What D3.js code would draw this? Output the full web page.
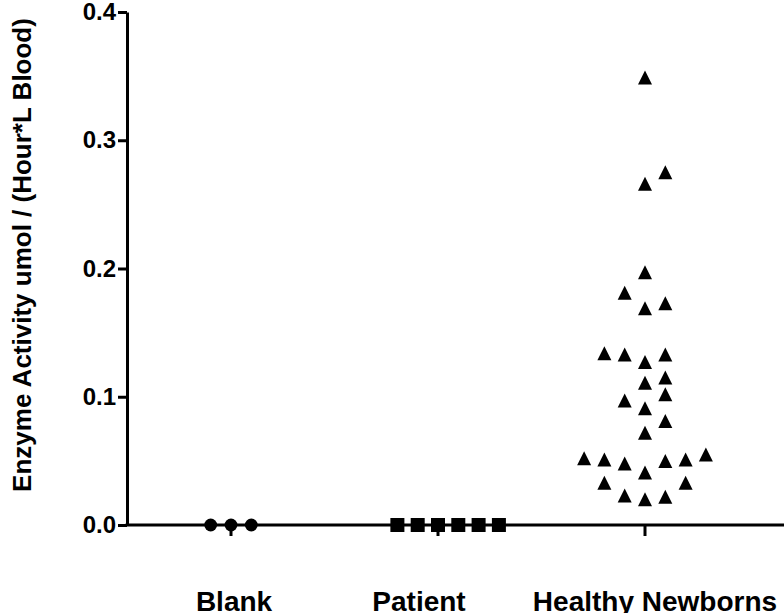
<!DOCTYPE html>
<html>
<head>
<meta charset="utf-8">
<script src="https://cdn.jsdelivr.net/npm/d3@7"></script>
<style>
  body { margin: 0; background: #fff; }
  text { font-family: "Liberation Sans", Arial, sans-serif; font-weight: bold; fill: #000; }
</style>
</head>
<body>
<svg id="chart" width="784" height="613"></svg>
<script>
// values (umol / (hour*L blood))
var categories = ["Blank", "Patient", "Healthy Newborns"];
var blankValues = [0, 0, 0];
var patientValues = [0, 0, 0, 0, 0, 0];
var newbornValues = [
  0.020, 0.022, 0.023, 0.033, 0.033,
  0.041, 0.048, 0.050, 0.051, 0.051, 0.052, 0.055,
  0.072, 0.081,
  0.091, 0.097, 0.102,
  0.111, 0.115,
  0.127, 0.133, 0.133, 0.134,
  0.169, 0.173, 0.181,
  0.197,
  0.266, 0.275,
  0.349
];
var yTicks = [0, 0.1, 0.2, 0.3, 0.4];

var width = 784, height = 613;
var margin = {top: 12, left: 127, bottom: 88};
var spread = 20.3;   // horizontal distance between neighbouring dots
var rowSpan = 0.0148; // values closer than this share a row
var labelShift = [3, -19, 10]; // the category labels are not quite centred under their ticks

var svg = d3.select("#chart");

var x = d3.scaleBand()
  .domain(categories)
  .range([127.5, 748.5]);

var y = d3.scaleLinear()
  .domain([0, 0.4])
  .range([height - margin.bottom, margin.top]);

// scatter dot plot layout: group close values into rows, then spread each row out from the centre
function dodge(values) {
  var idx = values.map((v, i) => i).sort((a, b) => values[a] - values[b] || a - b);
  var rows = [], cur = null;
  idx.forEach(function(i) {
    if (!cur || values[i] >= values[cur[0]] + rowSpan) { cur = [i]; rows.push(cur); }
    else cur.push(i);
  });
  var slots = new Array(values.length);
  rows.forEach(function(row, r) {
    var sign = r % 2 === 0 ? 1 : -1;
    row.slice().sort((a, b) => a - b).forEach(function(i, k) {
      var n = Math.ceil(k / 2);
      slots[i] = k === 0 ? 0 : (k % 2 === 1 ? sign * n : -sign * n);
    });
  });
  return values.map((v, i) => ({value: v, slot: slots[i]}));
}

// axes
var yAxis = g => g
  .attr("transform", `translate(${margin.left},0)`)
  .call(d3.axisLeft(y).tickValues(yTicks).tickFormat(d3.format(".1f")).tickSizeInner(9).tickSizeOuter(0).tickPadding(2))
  .call(g => g.selectAll("path, line").attr("stroke", "#000").attr("stroke-width", 3))
  .call(g => g.selectAll("text").style("font-size", "24px").attr("font-family", null));

var xAxis = g => g
  .attr("transform", `translate(0,${y(0)})`)
  .call(d3.axisBottom(x).tickSizeInner(11).tickSizeOuter(0).tickPadding(0))
  .call(g => g.select(".domain").remove())
  .call(g => g.selectAll("line").attr("stroke", "#000").attr("stroke-width", 3))
  .call(g => g.selectAll("text").remove());

svg.append("g").call(xAxis);
svg.append("line")
  .attr("x1", margin.left - 1.5).attr("x2", width)
  .attr("y1", y(0)).attr("y2", y(0))
  .attr("stroke", "#000").attr("stroke-width", 3);
svg.append("g").call(yAxis);

// category labels
svg.append("g")
  .selectAll("text")
  .data(categories)
  .join("text")
    .attr("x", (d, i) => x(d) + x.bandwidth() / 2 + labelShift[i])
    .attr("y", 611)
    .attr("text-anchor", "middle")
    .style("font-size", "28px")
    .text(d => d);

// y label
svg.append("text")
  .attr("transform", "translate(31,255) rotate(-90)")
  .attr("text-anchor", "middle")
  .style("font-size", "26px")
  .text("Enzyme Activity umol / (Hour*L Blood)");

var cx = (cat, d) => x(cat) + x.bandwidth() / 2 + d.slot * spread;

svg.append("g")
  .selectAll("circle")
  .data(dodge(blankValues))
  .join("circle")
    .attr("cx", d => cx("Blank", d))
    .attr("cy", d => y(d.value))
    .attr("r", 6.4)
    .attr("fill", "#000");

svg.append("g")
  .selectAll("rect")
  .data(dodge(patientValues))
  .join("rect")
    .attr("x", d => cx("Patient", d) - 7)
    .attr("y", d => y(d.value) - 7)
    .attr("width", 14)
    .attr("height", 14)
    .attr("fill", "#000");

var tri = "M0,-7L7,7L-7,7Z";
svg.append("g")
  .selectAll("path")
  .data(dodge(newbornValues))
  .join("path")
    .attr("transform", d => `translate(${cx("Healthy Newborns", d)},${y(d.value)})`)
    .attr("d", tri)
    .attr("fill", "#000");
</script>
</body>
</html>
